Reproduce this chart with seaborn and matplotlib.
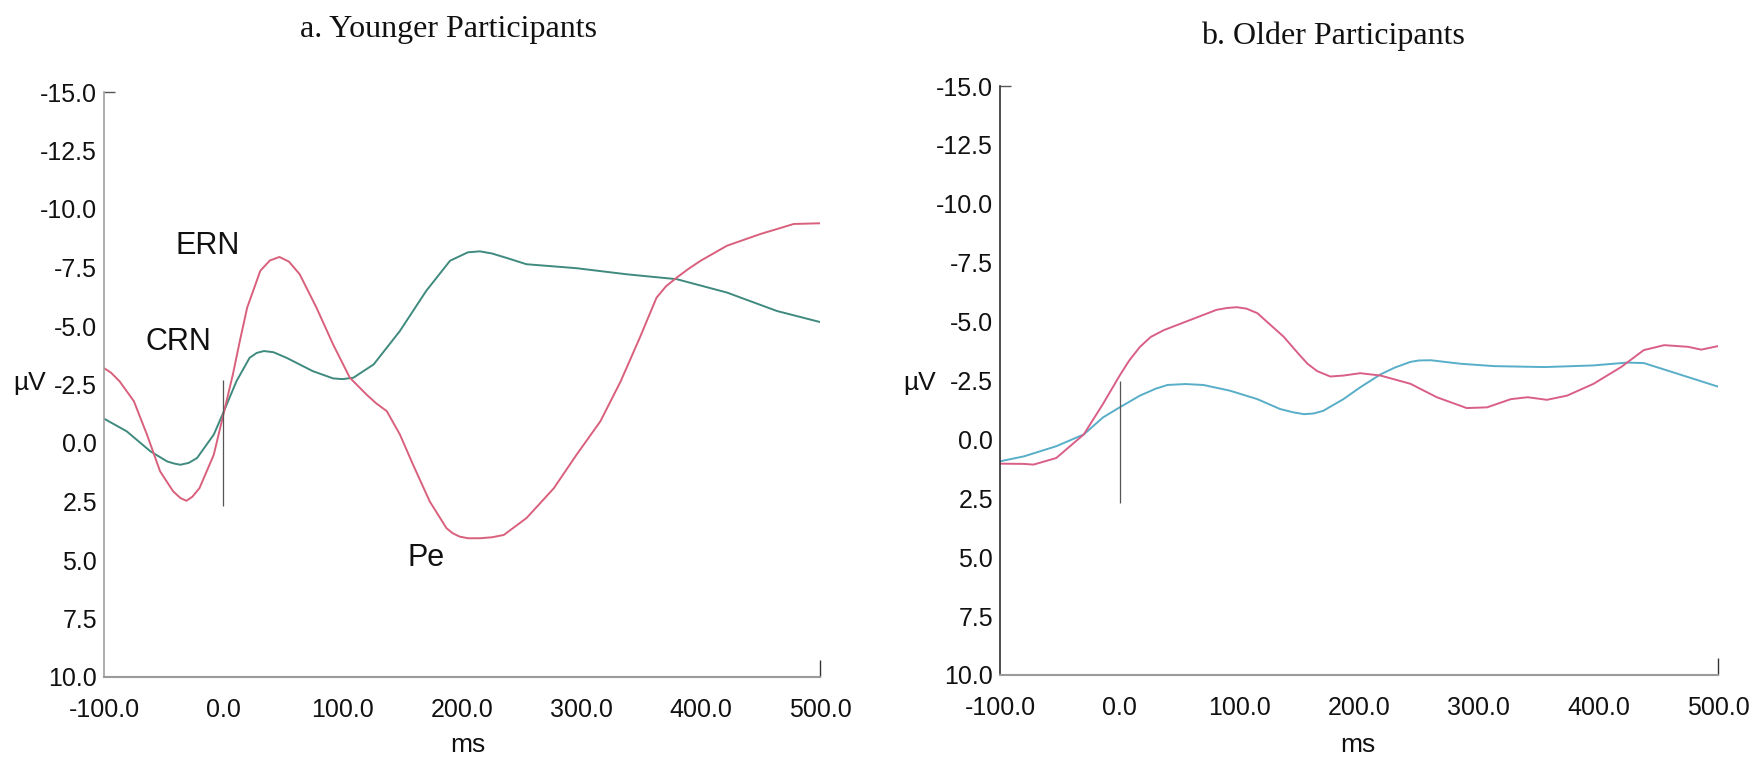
import numpy as np
import pandas as pd
import matplotlib
matplotlib.use("Agg")
import matplotlib.pyplot as plt
import seaborn as sns
from matplotlib.ticker import FixedLocator, FormatStrFormatter

# ---------------- data ----------------
young_error_ms = [-100, -94, -87, -75, -64, -53, -42, -36, -31, -26, -20, -8, 0, 8, 14, 20, 31, 39,
                  47, 55, 64, 78, 92, 106, 120, 128, 137, 148, 159, 173, 187, 192, 198, 205, 215,
                  225, 235, 254, 265, 277, 296, 316, 333, 349, 363, 371, 380, 390, 400, 422, 450,
                  478, 500]
young_error_uv = [-3.2, -3.0, -2.64, -1.79, -0.36, 1.21, 2.07, 2.35, 2.47, 2.3, 1.93, 0.5, -1.21,
                  -2.93, -4.4, -5.79, -7.36, -7.8, -7.95, -7.75, -7.21, -5.79, -4.21, -2.79, -2.07,
                  -1.7, -1.36, -0.36, 0.93, 2.5, 3.64, 3.85, 4.0, 4.07, 4.07, 4.03, 3.93, 3.21, 2.6,
                  1.93, 0.5, -0.93, -2.64, -4.5, -6.21, -6.7, -7.07, -7.45, -7.79, -8.43, -8.93,
                  -9.36, -9.39]
young_correct_ms = [-100, -81, -61, -47, -41, -36, -29, -22, -8, 0, 11, 22, 28, 34, 42, 53, 75, 92,
                    100, 109, 126, 148, 170, 190, 205, 215, 225, 238, 254, 296, 338, 380, 422, 464,
                    500]
young_correct_uv = [-1.04, -0.5, 0.36, 0.79, 0.88, 0.93, 0.85, 0.64, -0.36, -1.3, -2.64, -3.64,
                    -3.85, -3.93, -3.88, -3.64, -3.07, -2.76, -2.73, -2.79, -3.36, -4.79, -6.5,
                    -7.79, -8.15, -8.19, -8.1, -7.9, -7.64, -7.47, -7.21, -7.0, -6.43, -5.64, -5.17]

old_error_ms = [-100, -80, -72, -53, -30, -14, 0, 8, 17, 26, 37, 59, 81, 90, 98, 106, 115, 137, 150,
                157, 165, 176, 187, 201, 218, 243, 265, 290, 307, 327, 341, 357, 374, 396, 419, 438,
                455, 475, 486, 500]
old_error_uv = [1.03, 1.04, 1.07, 0.79, -0.21, -1.5, -2.71, -3.35, -3.93, -4.35, -4.64, -5.07, -5.5,
                -5.58, -5.61, -5.55, -5.36, -4.36, -3.6, -3.21, -2.9, -2.67, -2.71, -2.81, -2.71,
                -2.36, -1.79, -1.33, -1.36, -1.71, -1.79, -1.68, -1.86, -2.36, -3.07, -3.79, -4.0,
                -3.93, -3.81, -3.96]
old_correct_ms = [-100, -80, -53, -30, -14, 0, 17, 30, 40, 55, 70, 92, 115, 134, 145, 154, 162, 170,
                  187, 201, 218, 230, 243, 250, 260, 285, 313, 355, 396, 424, 438, 466, 500]
old_correct_uv = [0.93, 0.72, 0.29, -0.21, -0.93, -1.36, -1.86, -2.15, -2.31, -2.35, -2.31, -2.07,
                  -1.71, -1.29, -1.15, -1.07, -1.1, -1.21, -1.71, -2.21, -2.76, -3.05, -3.29, -3.35,
                  -3.36, -3.21, -3.11, -3.07, -3.14, -3.26, -3.24, -2.79, -2.24]

panel_titles = ["a. Younger Participants", "b. Older Participants"]
y_ticks = [-15.0, -12.5, -10.0, -7.5, -5.0, -2.5, 0.0, 2.5, 5.0, 7.5, 10.0]
x_ticks = [-100.0, 0.0, 100.0, 200.0, 300.0, 400.0, 500.0]
onset_ms = [0.0]
onset_extent = [(-2.7, 2.7), (-2.5, 2.7)]
annotations = [("ERN", -13, -8.4), ("CRN", -38, -4.3), ("Pe", 170, 4.9)]

def frame(ms_e, uv_e, ms_c, uv_c):
    return pd.concat([
        pd.DataFrame({"ms": ms_e, "uv": uv_e, "cond": "error"}),
        pd.DataFrame({"ms": ms_c, "uv": uv_c, "cond": "correct"}),
    ], ignore_index=True)

df_young = frame(young_error_ms, young_error_uv, young_correct_ms, young_correct_uv)
df_old = frame(old_error_ms, old_error_uv, old_correct_ms, old_correct_uv)

# ---------------- style ----------------
sns.set_theme(style="white")
plt.rcParams["font.family"] = ["Liberation Sans", "DejaVu Sans"]

fig = plt.figure(figsize=(17.57, 7.61), dpi=100)
ax1 = fig.add_axes([104/1757, 1-677/761, 716/1757, (677-92)/761])
ax2 = fig.add_axes([1000/1757, 1-675/761, 718/1757, (675-86)/761])

palettes = [
    {"error": "#d9607c", "correct": "#3f8a7e"},
    {"error": "#d95f86", "correct": "#58aec8"},
]
spine_cols = ["#a0a0a0", "#303030"]

for i, (ax, df) in enumerate([(ax1, df_young), (ax2, df_old)]):
    sns.lineplot(data=df, x="ms", y="uv", hue="cond", hue_order=["correct", "error"],
                 palette=palettes[i], linewidth=1.4, legend=False, ax=ax,
                 estimator=None, solid_joinstyle="round", solid_capstyle="round")
    ax.vlines(onset_ms, *onset_extent[i], color="#555555", linewidth=0.9)
    ax.set_xlim(-100, 500)
    ax.set_ylim(10, -15)
    ax.set_xticks(x_ticks)
    ax.set_yticks(y_ticks)
    ax.xaxis.set_major_formatter(FormatStrFormatter("%.1f"))
    ax.yaxis.set_major_formatter(FormatStrFormatter("%.1f"))
    ax.xaxis.remove_overlapping_locs = False
    ax.yaxis.remove_overlapping_locs = False
    ax.xaxis.set_minor_locator(FixedLocator([500.0]))
    ax.yaxis.set_minor_locator(FixedLocator([-15.0]))
    ax.tick_params(axis="x", which="major", direction="out", length=12, width=1.0,
                   color="#333333", labelsize=18, pad=3)
    ax.tick_params(axis="y", which="major", direction="out", length=4, width=1.0,
                   color="#555555", labelsize=18, pad=1)
    ax.tick_params(axis="x", which="minor", direction="in", length=12, width=1.0,
                   color="#333333", bottom=True)
    ax.tick_params(axis="y", which="minor", direction="in", length=8, width=1.0,
                   color="#555555", left=True)
    ax.set_xlabel("")
    ax.set_ylabel("")
    for s in ["top", "right"]:
        ax.spines[s].set_visible(False)
    ax.spines["left"].set_color(spine_cols[i])
    ax.spines["left"].set_linewidth(1.2)
    ax.spines["bottom"].set_color("#9a9a9a")
    ax.spines["bottom"].set_linewidth(1.5)
    for lab in ax.get_xticklabels() + ax.get_yticklabels():
        lab.set_color("#111111")

for txt, x, y in annotations:
    ax1.text(x, y, txt, fontsize=22, ha="center", va="center", color="#111111")

fig.text(448/1757, 1-30/761, panel_titles[0], family="Liberation Serif", fontsize=23,
         ha="center", va="center", color="#111111")
fig.text(1333/1757, 1-36/761, panel_titles[1], family="Liberation Serif", fontsize=23,
         ha="center", va="center", color="#111111")

for xc in [30/1757, 920/1757]:
    fig.text(xc, 1-383/761, "µV", fontsize=19, ha="center", va="center", color="#111111")
for xc in [468/1757, 1358/1757]:
    fig.text(xc, 1-745/761, "ms", fontsize=19, ha="center", va="center", color="#111111")

fig.savefig("out.png", dpi=100, facecolor="white")
